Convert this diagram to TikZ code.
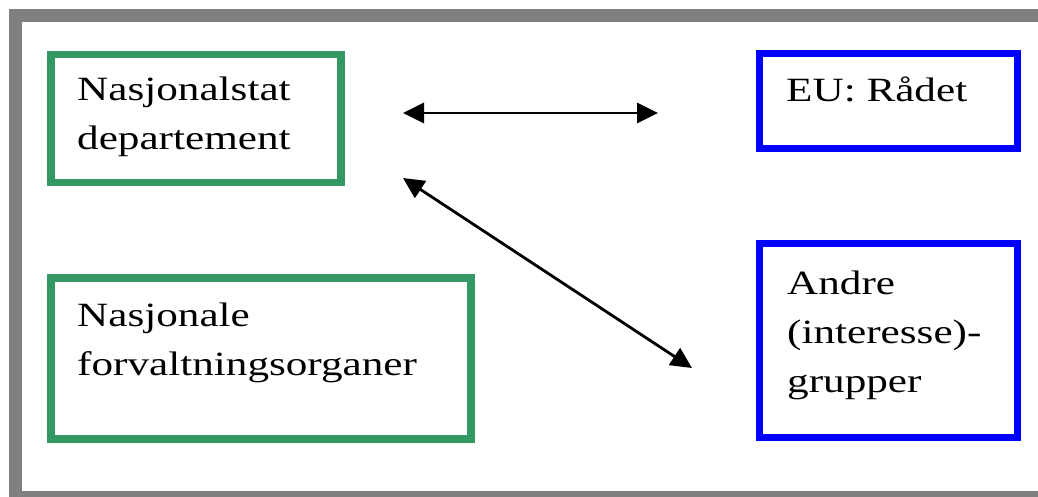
\documentclass[tikz,border=0pt]{standalone}
\usepackage{fontspec}
\setmainfont{Liberation Serif}[FakeStretch=1.27]
\usetikzlibrary{arrows.meta,calc}
\definecolor{boxgreen}{RGB}{52,152,100}
\definecolor{framegray}{RGB}{128,128,128}
\begin{document}
\begin{tikzpicture}[x=1pt,y=-1pt,
  gbox/.style={draw=boxgreen,line width=7.5pt,rectangle,inner sep=0pt,anchor=north west},
  bbox/.style={draw=blue,line width=7pt,rectangle,inner sep=0pt,anchor=north west},
  txt/.style={anchor=base west,align=left,inner sep=0pt,font=\fontsize{34}{49}\selectfont},
  link/.style={line width=2.8pt,{Triangle[length=21pt,width=20pt]}-{Triangle[length=21pt,width=20pt]}}]
\useasboundingbox (0,0) rectangle (1038,497);
\clip (0,0) rectangle (1038,497);
\draw[framegray,line width=13pt] (15,16) rectangle (1046,497);
\node[gbox,minimum width=290pt,minimum height=128pt] (nat) at (47,51) {};
\node[gbox,minimum width=420pt,minimum height=161pt] (forv) at (47,274) {};
\node[bbox,minimum width=258pt,minimum height=95pt] (eu) at (756,50) {};
\node[bbox,minimum width=258pt,minimum height=194pt] (andre) at (756,240) {};
\node[txt] (natt) at ($(nat.north west)+(30,99)$) {Nasjonalstat\\departement};
\node[txt] (forvt) at ($(forv.north west)+(30,101)$) {Nasjonale\\forvaltningsorganer};
\node[txt] (eut) at ($(eu.north west)+(30,52)$) {EU: Rådet};
\node[txt] (andret) at ($(andre.north west)+(31,152)$) {Andre\\(interesse)-\\grupper};
\coordinate (a1) at (403,113);
\coordinate (a2) at (658,113);
\coordinate (b1) at (403,178);
\coordinate (b2) at (692,368);
\draw[link] (a1) -- (a2);
\draw[link] (b1) -- (b2);
\end{tikzpicture}
\end{document}
